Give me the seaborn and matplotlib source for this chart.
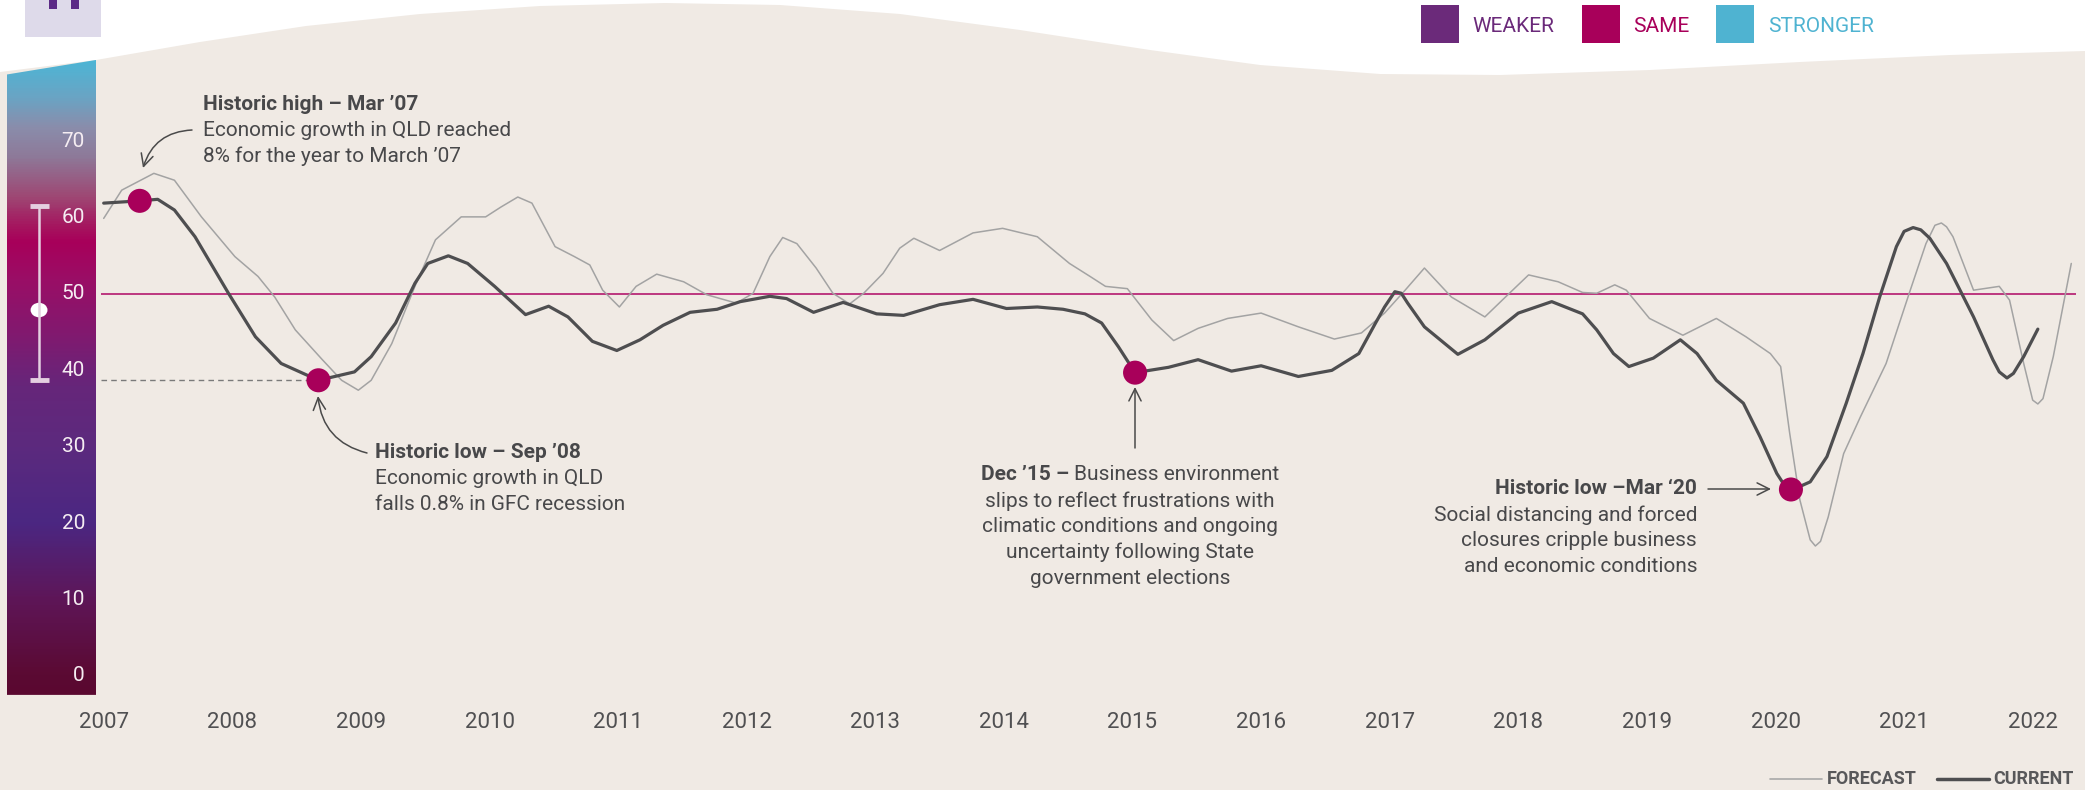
import numpy as np
import pandas as pd
import matplotlib
import matplotlib.pyplot as plt
import seaborn as sns
from matplotlib.patches import Polygon, Rectangle, Ellipse
from matplotlib.lines import Line2D
from matplotlib.colors import LinearSegmentedColormap

# ---- data ----
current_years = [2007.00, 2007.28, 2007.42, 2007.55, 2007.71, 2007.97, 2008.18, 2008.38, 2008.67, 2008.95,
                 2009.08, 2009.27, 2009.42, 2009.52, 2009.68, 2009.83, 2010.04, 2010.28, 2010.46, 2010.61,
                 2010.80, 2010.99, 2011.17, 2011.35, 2011.56, 2011.77, 2011.95, 2012.18, 2012.31, 2012.52,
                 2012.75, 2013.01, 2013.22, 2013.50, 2013.76, 2014.02, 2014.26, 2014.46, 2014.63, 2014.76,
                 2014.89, 2015.02, 2015.28, 2015.51, 2015.77, 2016.00, 2016.29, 2016.55, 2016.76, 2016.89,
                 2016.96, 2017.04, 2017.09, 2017.14, 2017.27, 2017.53, 2017.74, 2018.00, 2018.26, 2018.50,
                 2018.61, 2018.74, 2018.86, 2019.05, 2019.26, 2019.39, 2019.54, 2019.75, 2019.88, 2020.01,
                 2020.06, 2020.12, 2020.19, 2020.27, 2020.40, 2020.55, 2020.68, 2020.81, 2020.94, 2021.00,
                 2021.07, 2021.13, 2021.20, 2021.33, 2021.54, 2021.69, 2021.74, 2021.80, 2021.85, 2021.93,
                 2022.04]
current_values = [61.9, 62.2, 62.4, 61.0, 57.5, 50.1, 44.4, 40.9, 38.7, 39.8,
                  41.8, 46.2, 51.4, 54.0, 55.0, 54.0, 51.0, 47.3, 48.4, 47.0,
                  43.8, 42.6, 44.0, 45.9, 47.6, 48.0, 49.0, 49.7, 49.4, 47.6,
                  48.9, 47.4, 47.2, 48.6, 49.3, 48.1, 48.3, 48.0, 47.4, 46.2,
                  43.1, 39.7, 40.4, 41.4, 39.9, 40.6, 39.2, 40.0, 42.2, 46.2,
                  48.3, 50.3, 50.1, 48.8, 45.7, 42.1, 44.0, 47.5, 49.0, 47.4,
                  45.3, 42.2, 40.5, 41.6, 44.0, 42.2, 38.7, 35.7, 31.3, 26.5,
                  25.2, 24.4, 24.8, 25.4, 28.7, 35.7, 42.2, 49.6, 56.2, 58.2,
                  58.7, 58.4, 57.3, 54.0, 47.0, 41.4, 39.8, 39.0, 39.6, 41.8,
                  45.4]

forecast_years = [2007.00, 2007.14, 2007.39, 2007.55, 2007.76, 2008.02, 2008.20, 2008.33, 2008.49, 2008.70,
                  2008.85, 2008.98, 2009.08, 2009.24, 2009.42, 2009.58, 2009.78, 2009.97, 2010.09, 2010.22,
                  2010.33, 2010.51, 2010.66, 2010.78, 2010.88, 2011.01, 2011.14, 2011.30, 2011.51, 2011.69,
                  2011.92, 2012.05, 2012.18, 2012.28, 2012.39, 2012.54, 2012.67, 2012.80, 2012.91, 2013.06,
                  2013.19, 2013.30, 2013.50, 2013.76, 2013.99, 2014.26, 2014.51, 2014.67, 2014.79, 2014.96,
                  2015.15, 2015.32, 2015.51, 2015.74, 2016.00, 2016.29, 2016.57, 2016.78, 2016.96, 2017.12,
                  2017.27, 2017.48, 2017.74, 2017.90, 2018.08, 2018.31, 2018.50, 2018.61, 2018.75, 2018.84,
                  2019.02, 2019.28, 2019.54, 2019.77, 2019.96, 2020.04, 2020.11, 2020.19, 2020.27, 2020.31,
                  2020.35, 2020.41, 2020.53, 2020.66, 2020.86, 2021.04, 2021.17, 2021.24, 2021.29, 2021.33,
                  2021.38, 2021.54, 2021.74, 2021.82, 2021.93, 2022.00, 2022.04, 2022.08, 2022.16, 2022.30]
forecast_values = [59.9, 63.6, 65.8, 64.9, 60.1, 54.9, 52.3, 49.6, 45.3, 41.4,
                   38.7, 37.4, 38.7, 43.5, 51.0, 57.1, 60.1, 60.1, 61.4, 62.7,
                   61.9, 56.2, 54.9, 53.8, 50.5, 48.3, 51.0, 52.6, 51.6, 49.9,
                   48.8, 50.1, 54.9, 57.4, 56.6, 53.4, 50.1, 48.7, 50.1, 52.7,
                   56.0, 57.3, 55.7, 58.0, 58.6, 57.5, 54.0, 52.3, 51.0, 50.7,
                   46.6, 43.9, 45.5, 46.8, 47.5, 45.7, 44.1, 44.9, 47.5, 50.5,
                   53.4, 49.6, 47.0, 49.6, 52.5, 51.6, 50.2, 50.1, 51.2, 50.5,
                   46.8, 44.6, 46.8, 44.4, 42.2, 40.5, 31.8, 23.0, 17.8, 17.0,
                   17.6, 20.8, 29.1, 33.9, 40.9, 50.1, 56.6, 59.0, 59.3, 58.8,
                   57.5, 50.5, 51.0, 49.2, 40.9, 36.1, 35.6, 36.3, 41.8, 54.0]

event_years = [2007.28, 2008.67, 2015.02, 2020.12]
event_values = [62.2, 38.7, 39.7, 24.4]

tick_years = list(range(2007, 2023))
scale_ticks = [0, 10, 20, 30, 40, 50, 60, 70]
legend_labels = ['WEAKER', 'SAME', 'STRONGER']
legend_colors = ['#6b2a7a', '#a8005a', '#4fb3d1']

W, H = 2085, 790
TXT = '#48484a'

sns.set_theme(style='white')
plt.rcParams['font.family'] = ['Roboto', 'DejaVu Sans']

fig = plt.figure(figsize=(W / 100, H / 100), dpi=100)
fig.patch.set_facecolor('white')


def P(x, y):
    return (x / W, 1 - y / H)


# wavy beige background
wave = [(0, 72), (96, 60), (200, 42), (306, 26), (420, 14), (540, 6), (665, 3), (780, 5),
        (900, 14), (1020, 30), (1150, 50), (1260, 65), (1380, 74), (1500, 75), (1650, 70),
        (1800, 62), (1950, 55), (2085, 51)]
pts = [P(x, y) for x, y in wave] + [P(W, H), P(0, H)]
fig.add_artist(Polygon(pts, closed=True, transform=fig.transFigure,
                       facecolor='#f0eae4', edgecolor='none', zorder=-10))

# icon at top-left
fig.add_artist(Rectangle(P(25, 37), 76 / W, 37 / H, transform=fig.transFigure,
                         facecolor='#dedaea', edgecolor='none', zorder=-5))
for bx in (49, 71):
    fig.add_artist(Rectangle(P(bx, 9), 8 / W, 9 / H, transform=fig.transFigure,
                             facecolor='#5b2a86', edgecolor='none', zorder=-4))

# ---- main axes ----
x0, x1 = 2007 + (96 - 103.7) / 128.6, 2007 + (W - 103.7) / 128.6
y0, y1 = (675.8 - 700) / 7.636, (675.8 - 40) / 7.636
ax = fig.add_axes([96 / W, 90 / H, (W - 96) / W, 660 / H])
ax.set_facecolor('none')
ax.set_xlim(x0, x1)
ax.set_ylim(y0, y1)
for s in ax.spines.values():
    s.set_visible(False)

ax.hlines(50, 2006.98, 2022.34, color='#b3196e', lw=1.2, zorder=1)
ax.hlines(38.7, 2006.98, 2008.67, color='#7a7a7a', lw=1.0, linestyles=(0, (4, 3)), zorder=1)

fc = pd.DataFrame({'year': forecast_years, 'value': forecast_values})
cu = pd.DataFrame({'year': current_years, 'value': current_values})
ev = pd.DataFrame({'year': event_years, 'value': event_values})
sns.lineplot(data=fc, x='year', y='value', ax=ax, color='#a3a3a3', lw=1.1, estimator=None,
             solid_joinstyle='round', zorder=2)
sns.lineplot(data=cu, x='year', y='value', ax=ax, color='#4e4e50', lw=2.3, estimator=None,
             solid_joinstyle='round', solid_capstyle='round', zorder=3)
sns.scatterplot(data=ev, x='year', y='value', ax=ax, color='#a8005a', s=300, edgecolor='none', zorder=4)

ax.set_xticks(tick_years)
ax.set_xticklabels([str(y) for y in tick_years], fontsize=16, color='#505052')
ax.tick_params(axis='x', length=0, pad=9)
ax.set_yticks([])
ax.set_xlabel('')
ax.set_ylabel('')

# ---- gradient scale bar ----
bar = fig.add_axes([7 / W, 90 / H, 89 / W, 660 / H])
bar.set_xlim(0, 1)
bar.set_ylim(y0, y1)
bar.axis('off')
vb, vt = -2.5, 80.65
anchors = [(-2.5, '#5a0830'), (0, '#5b0a33'), (10, '#5e1658'), (20, '#4b2782'), (30, '#5c2a7e'),
           (38, '#66267a'), (45, '#82196f'), (52, '#9a0e66'), (57, '#a8005a'), (59, '#a5165f'),
           (63, '#9e4874'), (68, '#8e7898'), (72, '#8a8dab'), (76, '#6aa4c4'), (80.65, '#4db5d5')]
cmap = LinearSegmentedColormap.from_list('scale', [((v - vb) / (vt - vb), c) for v, c in anchors])
grad = np.linspace(0, 1, 500).reshape(-1, 1)
im = bar.imshow(grad, cmap=cmap, origin='lower', extent=(0, 1, vb, vt), aspect='auto')
clip = Polygon([(0, vb), (1, vb), (1, vt), (0, 78.75)], closed=True, transform=bar.transData,
               facecolor='none', edgecolor='none')
bar.add_patch(clip)
im.set_clip_path(clip)
for t in scale_ticks:
    bar.text(0.876, t, str(t), color='#f5edf2', fontsize=15, ha='right', va='center')
bar.vlines(0.36, 38.7, 61.5, color='#e4cfe0', lw=1.8)
bar.hlines([38.7, 61.5], 0.26, 0.47, color='#e4cfe0', lw=3.5)
bar.add_patch(Ellipse((0.36, 47.9), 0.19, 1.9, facecolor='white', edgecolor='none'))

# ---- top legend ----
for (sx, tx), lab, col in zip([(1421, 1472), (1582, 1633), (1716, 1768)], legend_labels, legend_colors):
    fig.add_artist(Rectangle(P(sx, 43), 38 / W, 38 / H, transform=fig.transFigure,
                             facecolor=col, edgecolor='none'))
    fig.text(*P(tx, 26), lab, color=col, fontsize=15, ha='left', va='center')

# ---- bottom legend ----
fig.add_artist(Line2D([1770 / W, 1822 / W], [1 - 779 / H] * 2, color='#a8a8a8', lw=1.2))
fig.text(*P(1827, 779), 'FORECAST', color='#58585a', fontsize=13, weight='bold', va='center')
fig.add_artist(Line2D([1937 / W, 1989 / W], [1 - 779 / H] * 2, color='#4e4e50', lw=2.5))
fig.text(*P(1993, 779), 'CURRENT', color='#58585a', fontsize=13, weight='bold', va='center')

# ---- annotations ----
renderer = fig.canvas.get_renderer()


def mixed(x, y, parts, ha='left', size=15):
    texts = [fig.text(0, 0, s, fontsize=size, weight=w, color=TXT, va='center') for s, w in parts]
    widths = [t.get_window_extent(renderer).width for t in texts]
    total = sum(widths)
    start = {'left': x, 'center': x - total / 2, 'right': x - total}[ha]
    for t, w in zip(texts, widths):
        t.set_position(P(start, y))
        start += w


def block(x, y, lines, ha, step=26):
    for i, ln in enumerate(lines):
        if isinstance(ln, list):
            mixed(x, y + i * step, ln, ha)
        else:
            fig.text(*P(x, y + i * step), ln, fontsize=15, color=TXT, ha=ha, va='center')


arrow = dict(arrowstyle='->', color='#4a4a4a', lw=1.1, mutation_scale=22, shrinkA=0, shrinkB=0)

block(203, 104, [[('Historic high – Mar ’07', 'bold')],
                 'Economic growth in QLD reached',
                 '8% for the year to March ’07'], 'left')
fig.add_artist(matplotlib.patches.FancyArrowPatch(P(192, 130), P(143, 168), transform=fig.transFigure,
                                                  connectionstyle='arc3,rad=0.35', **arrow))

block(375, 453, [[('Historic low – Sep ’08', 'bold')],
                 'Economic growth in QLD',
                 'falls 0.8% in GFC recession'], 'left')
fig.add_artist(matplotlib.patches.FancyArrowPatch(P(367, 453), P(318, 396), transform=fig.transFigure,
                                                  connectionstyle='arc3,rad=-0.35', **arrow))

block(1130, 475, [[('Dec ’15 – ', 'bold'), ('Business environment', 'normal')],
                  'slips to reflect frustrations with',
                  'climatic conditions and ongoing',
                  'uncertainty following State',
                  'government elections'], 'center', step=25.8)
fig.add_artist(matplotlib.patches.FancyArrowPatch(P(1135, 448), P(1135, 387), transform=fig.transFigure,
                                                  **arrow))

block(1697, 489, [[('Historic low –Mar ‘20', 'bold')],
                  'Social distancing and forced',
                  'closures cripple business',
                  'and economic conditions'], 'right')
fig.add_artist(matplotlib.patches.FancyArrowPatch(P(1708, 489), P(1771, 489), transform=fig.transFigure,
                                                  **arrow))

fig.savefig('out.png', dpi=100, facecolor=fig.get_facecolor())
